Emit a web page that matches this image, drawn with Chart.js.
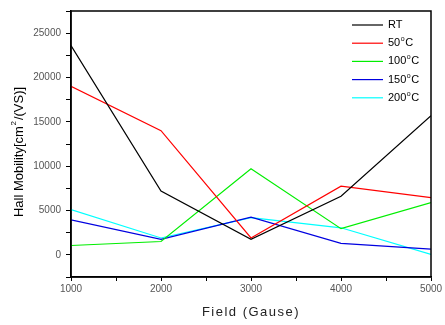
<!DOCTYPE html>
<html lang="en">
  <head>
    <meta charset="UTF-8" />
    <title>Hall Mobility vs Field</title>
    <style>
      html, body { margin: 0; padding: 0; background: #fff; }
      #wrap { width: 445px; height: 325px; }
    </style>
  </head>
  <body>
    <div id="wrap"><canvas id="myChart" width="445" height="325"></canvas></div>

    <script src="https://cdn.jsdelivr.net/npm/chart.js@4.4.1/dist/chart.umd.min.js"></script>
    <script>
      // field values (Gause)
      var fields = [1000, 2000, 3000, 4000, 5000];

      // hall mobility per temperature
      var rt = [23600, 7200, 1750, 6600, 15700];
      var t50 = [19000, 14000, 1900, 7750, 6450];
      var t100 = [1050, 1500, 9700, 2950, 5900];
      var t150 = [3950, 1750, 4250, 1300, 650];
      var t200 = [5100, 1900, 4200, 3050, 50];

      var seriesNames = ["RT", "50°C", "100°C", "150°C", "200°C"];
      var seriesColors = ["#000000", "#ff0000", "#00ee00", "#0000e0", "#00ffff"];

      var yTicks = [0, 5000, 10000, 15000, 20000, 25000];
      var xTicks = [1000, 2000, 3000, 4000, 5000];

      function toPoints(vals) {
        return vals.map(function (v, i) {
          return { x: fields[i], y: v };
        });
      }

      var allSeries = [rt, t50, t100, t150, t200];
      var datasets = [];
      for (let i = 0; i < allSeries.length; i++) {
        datasets.push({
          label: seriesNames[i],
          data: toPoints(allSeries[i]),
          borderColor: seriesColors[i],
          borderWidth: 1.2,
          pointRadius: 0,
          tension: 0,
        });
      }

      // frame + legend + axis titles
      var extras = {
        id: "extras",
        afterDraw: function (chart) {
          var ctx = chart.ctx;
          var a = chart.chartArea;
          ctx.save();
          ctx.strokeStyle = "#000";
          ctx.lineWidth = 1.5;
          ctx.strokeRect(a.left, a.top, a.right - a.left, a.bottom - a.top);

          // legend inside plot, top right
          ctx.font = "11px 'Liberation Sans', Arial, sans-serif";
          ctx.textBaseline = "middle";
          chart.data.datasets.forEach(function (ds, i) {
            var y = 25 + i * 18.2;
            ctx.strokeStyle = ds.borderColor;
            ctx.lineWidth = 1.2;
            ctx.beginPath();
            ctx.moveTo(352, y);
            ctx.lineTo(383, y);
            ctx.stroke();
            ctx.fillStyle = "#000";
            var label = ds.label;
            var x = 388;
            var deg = label.indexOf("°");
            if (deg < 0) {
              ctx.fillText(label, x, y);
            } else {
              var pre = label.slice(0, deg);
              ctx.fillText(pre, x, y);
              x += ctx.measureText(pre).width;
              ctx.font = "7px 'Liberation Sans', Arial, sans-serif";
              ctx.fillText("o", x + 0.5, y - 4);
              x += 5;
              ctx.font = "11px 'Liberation Sans', Arial, sans-serif";
              ctx.fillText(label.slice(deg + 1), x, y);
            }
          });

          // x title
          ctx.fillStyle = "#222";
          ctx.font = "13px 'Liberation Sans', Arial, sans-serif";
          ctx.textAlign = "center";
          ctx.letterSpacing = "1.5px";
          ctx.fillText("Field (Gause)", 251, 312);

          // y title, rotated
          ctx.letterSpacing = "0px";
          ctx.translate(19, 152);
          ctx.rotate(-Math.PI / 2);
          ctx.fillStyle = "#000";
          ctx.font = "13px 'Liberation Sans', Arial, sans-serif";
          var t1 = "Hall Mobility[cm";
          var t2 = "/(VS)]";
          ctx.textAlign = "left";
          var w1 = ctx.measureText(t1).width;
          var w2 = ctx.measureText(t2).width;
          var start = -(w1 + 6 + w2) / 2;
          ctx.fillText(t1, start, 0);
          ctx.font = "8px 'Liberation Sans', Arial, sans-serif";
          ctx.fillText("2", start + w1 + 0.5, -5);
          ctx.font = "13px 'Liberation Sans', Arial, sans-serif";
          ctx.fillText(t2, start + w1 + 6, 0);
          ctx.restore();
        },
      };

      var ctx = document.getElementById("myChart").getContext("2d");
      var myChart = new Chart(ctx, {
        type: "line",
        data: { datasets: datasets },
        plugins: [extras],
        options: {
          responsive: false,
          animation: false,
          layout: { padding: { top: 9, right: 14, left: 0, bottom: 0 } },
          plugins: {
            legend: { display: false },
            tooltip: { enabled: false },
          },
          scales: {
            x: {
              type: "linear",
              min: 1000,
              max: 5000,
              afterFit: function (s) { s.height = 48; },
              ticks: {
                stepSize: 500,
                autoSkip: false,
                maxRotation: 0,
                padding: 2,
                color: "#555",
                font: { size: 10, family: "'Liberation Sans', Arial, sans-serif" },
                callback: function (v) {
                  return xTicks.indexOf(v) >= 0 ? String(v) : "";
                },
              },
              grid: { drawOnChartArea: false, tickLength: 4, color: "#000" },
              border: { color: "#000", width: 1.5 },
            },
            y: {
              min: -2500,
              max: 27500,
              afterFit: function (s) { s.width = 71; },
              ticks: {
                stepSize: 2500,
                autoSkip: false,
                padding: 5,
                color: "#555",
                font: { size: 10, family: "'Liberation Sans', Arial, sans-serif" },
                callback: function (v) {
                  return yTicks.indexOf(v) >= 0 ? String(v) : "";
                },
              },
              grid: { drawOnChartArea: false, tickLength: 5, color: "#000" },
              border: { color: "#000", width: 1.5 },
            },
          },
        },
      });
    </script>
  </body>
</html>
